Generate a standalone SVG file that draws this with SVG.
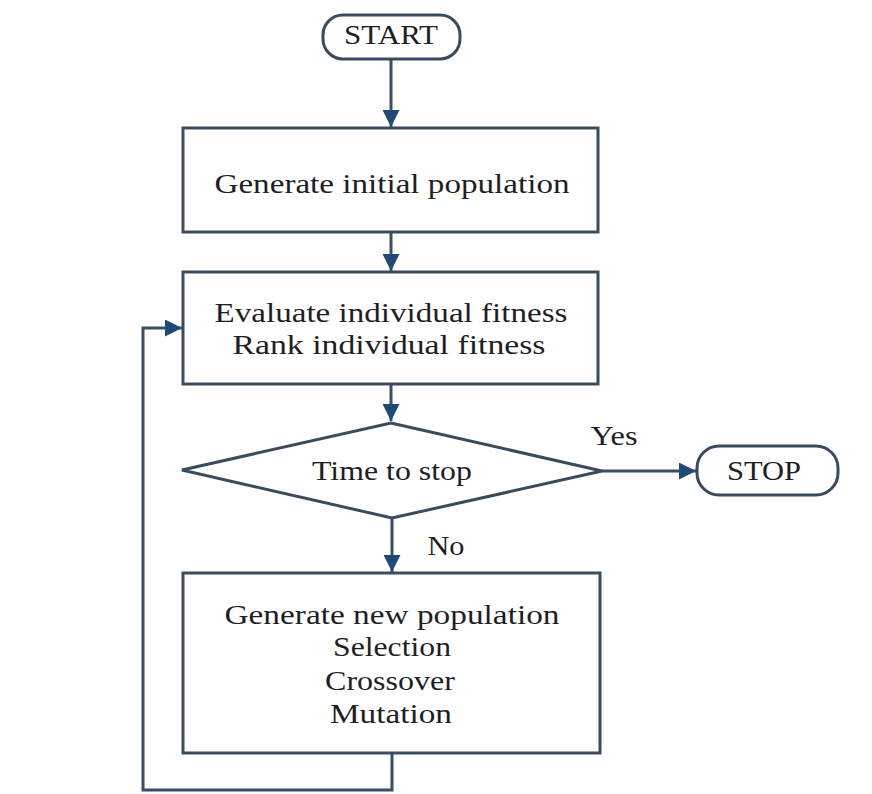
<svg xmlns="http://www.w3.org/2000/svg" width="872" height="794" viewBox="0 0 872 794">
<defs>
<marker id="arr" viewBox="0 0 10 10" refX="10" refY="5" markerWidth="17" markerHeight="17" markerUnits="userSpaceOnUse" orient="auto">
<path d="M0,0 L10,5 L0,10 z" fill="#1f4a78"/>
</marker>
<style>
.box{fill:#ffffff;stroke:#3b4b5e;stroke-width:3}
.conn{fill:none;stroke:#3a4e66;stroke-width:3}
.t{font-family:"Liberation Serif","Times New Roman",serif;font-size:27px;fill:#1e1e24;text-anchor:middle}
</style>
</defs>
<rect width="872" height="794" fill="#ffffff"/>
<g id="connectors">
<path class="conn" d="M391,58 V127" marker-end="url(#arr)"/>
<path class="conn" d="M391,232 V271" marker-end="url(#arr)"/>
<path class="conn" d="M391,384 V421" marker-end="url(#arr)"/>
<path class="conn" d="M602,471 H696" marker-end="url(#arr)"/>
<path class="conn" d="M392,518 V572" marker-end="url(#arr)"/>
<path class="conn" d="M392,753 V790 H143 V328 H182" marker-end="url(#arr)"/>
</g>
<g id="start">
<rect class="box" x="323" y="15" width="137" height="44" rx="20"/>
<text class="t" x="391" y="44" textLength="94" lengthAdjust="spacingAndGlyphs">START</text>
</g>
<g id="init">
<rect class="box" x="183" y="128" width="415" height="104"/>
<text class="t" x="392" y="193" textLength="355" lengthAdjust="spacingAndGlyphs">Generate initial population</text>
</g>
<g id="evaluate">
<rect class="box" x="183" y="272" width="415" height="112"/>
<text class="t" x="391" y="322" textLength="353" lengthAdjust="spacingAndGlyphs">Evaluate individual fitness</text>
<text class="t" x="389" y="354" textLength="313" lengthAdjust="spacingAndGlyphs">Rank individual fitness</text>
</g>
<g id="decision">
<polygon class="box" points="391,423 602,471 392,518 182,470"/>
<text class="t" x="392" y="480" textLength="160" lengthAdjust="spacingAndGlyphs">Time to stop</text>
</g>
<g id="stop">
<rect class="box" x="697" y="446" width="141" height="49" rx="22"/>
<text class="t" x="764" y="480" textLength="74" lengthAdjust="spacingAndGlyphs">STOP</text>
</g>
<g id="labels">
<text class="t" x="614" y="445" textLength="47" lengthAdjust="spacingAndGlyphs">Yes</text>
<text class="t" x="446" y="555" textLength="37" lengthAdjust="spacingAndGlyphs">No</text>
</g>
<g id="newpop">
<rect class="box" x="183" y="573" width="417" height="180"/>
<text class="t" x="392" y="624" textLength="335" lengthAdjust="spacingAndGlyphs">Generate new population</text>
<text class="t" x="392" y="656" textLength="118" lengthAdjust="spacingAndGlyphs">Selection</text>
<text class="t" x="390" y="690" textLength="130" lengthAdjust="spacingAndGlyphs">Crossover</text>
<text class="t" x="391" y="723" textLength="122" lengthAdjust="spacingAndGlyphs">Mutation</text>
</g>
</svg>
